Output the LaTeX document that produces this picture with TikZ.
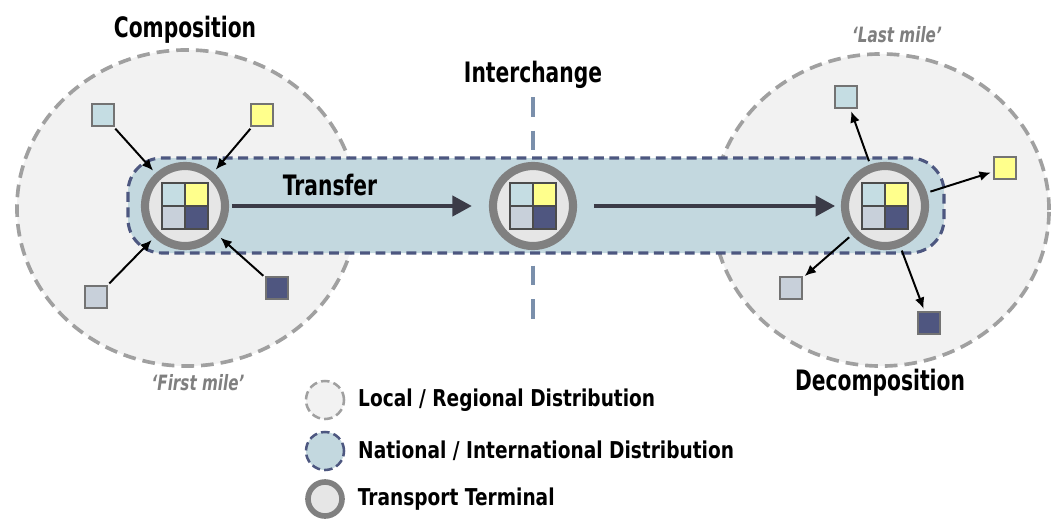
\documentclass[tikz,border=0pt]{standalone}
\usepackage{fontspec}
\newfontfamily\agency[FakeStretch=0.72]{DejaVu Sans}
\newfontfamily\agencywide[FakeStretch=0.8]{DejaVu Sans}
\usetikzlibrary{arrows.meta,positioning}

\definecolor{localfill}{HTML}{F2F2F2}
\definecolor{localline}{HTML}{A0A0A0}
\definecolor{natfill}{HTML}{C3D8DF}
\definecolor{natline}{HTML}{4D5780}
\definecolor{termfill}{HTML}{E6E6E6}
\definecolor{termline}{HTML}{808080}
\definecolor{cellblue}{HTML}{C5DDE3}
\definecolor{cellyellow}{HTML}{FFFF8C}
\definecolor{cellgray}{HTML}{C8D0DA}
\definecolor{cellnavy}{HTML}{4F5680}
\definecolor{flowdark}{HTML}{3B3B47}
\definecolor{icline}{HTML}{7A8FAB}
\definecolor{milegray}{HTML}{7F7F7F}

\begin{document}
\begin{tikzpicture}[x=0.025cm, y=-0.025cm, >=Latex,
  title/.style={font=\agency\bfseries\fontsize{20}{24}\selectfont},
  mile/.style={font=\agency\bfseries\itshape\fontsize{15}{18}\selectfont, text=milegray},
  legtext/.style={font=\agencywide\bfseries\fontsize{16.5}{20}\selectfont, anchor=west},
  region/.style={fill=localfill, draw=localline, line width=2.6pt, dash pattern=on 9pt off 5pt},
  corridor/.style={fill=natfill, draw=natline, line width=2.2pt, dash pattern=on 7pt off 4pt},
  terminal/.style={circle, draw=termline, line width=5.8pt, fill=termfill, minimum size=2cm, inner sep=0},
  parcel/.style={draw=black!55, line width=0.8pt, minimum size=0.55cm, inner sep=0},
  feed/.style={-{Latex[length=8pt,width=7pt]}, line width=1.4pt, shorten <=2pt, shorten >=2.5pt},
  flow/.style={-{Triangle[length=14pt,width=14pt]}, line width=3.5pt, draw=flowdark},
  cells/.pic={
    \draw[draw=black!70, line width=0.8pt, fill=cellblue] (-23,-23) rectangle (0,0);
    \draw[draw=black!70, line width=0.8pt, fill=cellyellow] (0,-23) rectangle (23,0);
    \draw[draw=black!70, line width=0.8pt, fill=cellgray] (-23,0) rectangle (0,23);
    \draw[draw=black!70, line width=0.8pt, fill=cellnavy] (0,0) rectangle (23,23);
  }]
  \useasboundingbox (0,0) rectangle (1051,519);

  % regional areas
  \draw[region] (187,208) ellipse [x radius=4.25cm, y radius=3.95cm];
  \draw[region] (881,210) ellipse [x radius=4.2cm, y radius=3.9cm];

  % interchange border
  \coordinate (ictop) at (533,97);
  \coordinate (icbot) at (533,330);
  \draw[icline, line width=2.8pt, dash pattern=on 14pt off 10pt] (ictop) -- (icbot);
  \node[title] (interchange) at (533,75) {Interchange};

  % national corridor
  \draw[corridor, rounded corners=0.85cm] (128,158) rectangle (944,253);

  % terminals
  \node[terminal] (first) at (185,206) {};
  \node[terminal] (hub) at (533,206) {};
  \node[terminal] (last) at (885,206) {};
  \pic at (first) {cells};
  \pic at (hub) {cells};
  \pic at (last) {cells};

  % transfer
  \draw[flow, shorten <=2pt, shorten >=12pt] (first.east) -- (hub.west);
  \draw[flow, shorten <=12pt, shorten >=4pt] (hub.east) -- (last.west);
  \node[title] (transfer) at (330,185) {Transfer};

  % composition
  \node[parcel, fill=cellblue] (in1) at (103,115) {};
  \node[parcel, fill=cellyellow] (in2) at (262,115) {};
  \node[parcel, fill=cellgray] (in3) at (96,297) {};
  \node[parcel, fill=cellnavy] (in4) at (277,288) {};
  \foreach \p in {in1,in2,in3,in4}
    \draw[feed] (\p) -- (first);

  % decomposition
  \node[parcel, fill=cellblue] (out1) at (846,97) {};
  \node[parcel, fill=cellyellow] (out2) at (1005,168) {};
  \node[parcel, fill=cellgray] (out3) at (791,288) {};
  \node[parcel, fill=cellnavy] (out4) at (929,323) {};
  \foreach \p in {out1,out2,out3,out4}
    \draw[feed, shorten <=2.5pt, shorten >=2pt] (last) -- (\p);

  \node[title] (comp) at (185,30) {Composition};
  \node[title] (decomp) at (880,383) {Decomposition};
  \node[mile] (firstmile) at (198,383) {‘First mile’};
  \node[mile] (lastmile) at (897,35) {‘Last mile’};

  % legend
  \node[circle, region, line width=1.8pt, dash pattern=on 6pt off 3pt, minimum size=0.95cm] (leg1) at (325,400) {};
  \node[circle, corridor, line width=1.8pt, dash pattern=on 6pt off 3pt, minimum size=0.95cm] (leg2) at (325,451) {};
  \node[terminal, line width=4pt, minimum size=0.85cm] (leg3) at (325,499) {};
  \node[legtext, right=0.2cm of leg1] (leg1text) {Local / Regional Distribution};
  \node[legtext, right=0.2cm of leg2] (leg2text) {National / International Distribution};
  \node[legtext, right=0.2cm of leg3] (leg3text) {Transport Terminal};
\end{tikzpicture}
\end{document}
